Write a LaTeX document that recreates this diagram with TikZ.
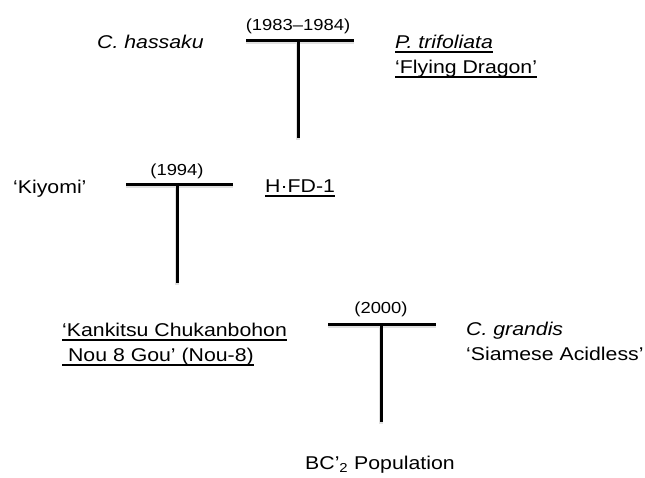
\documentclass[tikz,border=0pt]{standalone}
\usepackage{fontspec}
\usepackage{tikz}
\usetikzlibrary{positioning}
\setmainfont[FakeStretch=1.15]{Liberation Sans}
\newcommand{\undl}[1]{\leavevmode\setbox0=\hbox{#1}\rlap{\rule[-4.5pt]{\wd0}{1.2pt}}\box0}

\begin{document}
\begin{tikzpicture}[
    x=1pt, y=-1pt,
    plant/.style={anchor=base west, inner sep=0pt, align=left, font=\fontsize{18.5}{25}\selectfont},
    year/.style={anchor=base, inner sep=0pt, font=\fontsize{16}{19}\selectfont},
    bar/.style={line width=3pt, preaction={draw=black!12, line width=4pt, transform canvas={yshift=-1.5pt}}}
]
\useasboundingbox (0,0) rectangle (645,477);

% Parents and offspring (base of two-line nodes is their last line)
\node[plant] (hassaku) at (97,48) {\textit{C. hassaku}};
\node[plant] (trifoliata) at (395,73) {\undl{\textit{P. trifoliata}}\\\undl{‘Flying Dragon’}};
\node[plant] (kiyomi) at (13,193) {‘Kiyomi’};
\node[plant] (hfd) at (265,192) {\undl{H·FD-1}};
\node[plant] (nou) at (62,361) {\undl{‘Kankitsu Chukanbohon}\\\undl{\ Nou 8 Gou’ (Nou-8)}};
\node[plant] (grandis) at (466,360) {\textit{C. grandis}\\‘Siamese Acidless’};
\node[plant] (bc) at (305,469) {BC’\textsubscript{2} Population};

% Years of crossing
\node[year] (year1) at (298,30) {(1983–1984)};
\node[year] (year2) at (177,175) {(1994)};
\node[year] (year3) at (381,313) {(2000)};

% Cross points
\coordinate (bar1l) at (246,40);
\coordinate (bar1r) at (354,40);
\coordinate (stem1) at (298,40);
\coordinate (foot1) at (298,138);
\coordinate (bar2l) at (126,184);
\coordinate (bar2r) at (233,184);
\coordinate (stem2) at (177,184);
\coordinate (foot2) at (177,283);
\coordinate (bar3l) at (328,324);
\coordinate (bar3r) at (436,324);
\coordinate (stem3) at (381,324);
\coordinate (foot3) at (381,422);

% Crosses
\draw[bar] (bar1l) -- (bar1r);
\draw[bar] (stem1) -- (foot1);
\draw[bar] (bar2l) -- (bar2r);
\draw[bar] (stem2) -- (foot2);
\draw[bar] (bar3l) -- (bar3r);
\draw[bar] (stem3) -- (foot3);

\end{tikzpicture}
\end{document}
